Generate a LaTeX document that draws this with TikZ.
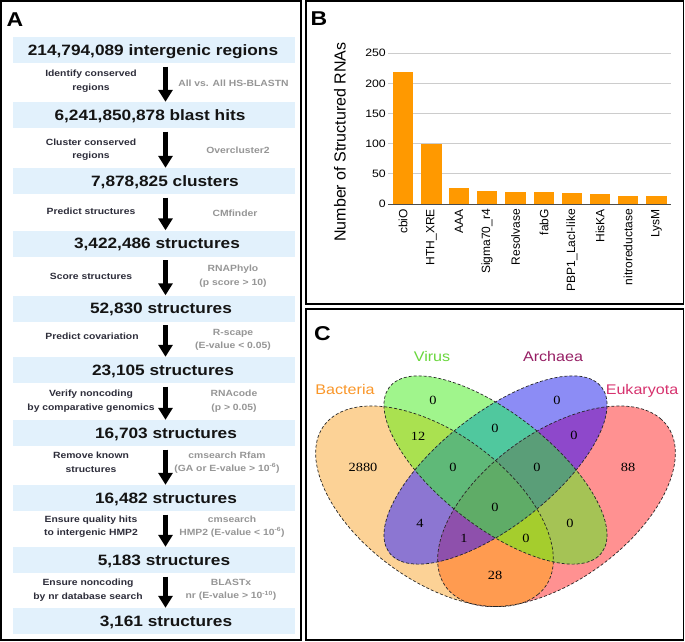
\documentclass[tikz,border=0pt]{standalone}
\usepackage{fontspec}
\setmainfont[FakeStretch=1.15]{Liberation Sans}
\newfontfamily\plainsans{Liberation Sans}
\newfontfamily\vennserif[FakeStretch=1.15]{Liberation Serif}
\usetikzlibrary{arrows.meta}

\definecolor{boxblue}{RGB}{226,241,252}
\definecolor{steptext}{RGB}{45,45,58}
\definecolor{tooltext}{RGB}{150,150,150}
\definecolor{barorange}{RGB}{255,153,0}
\definecolor{gridgray}{RGB}{204,204,204}
\definecolor{cB}{RGB}{252,210,150}
\definecolor{cV}{RGB}{160,245,140}
\definecolor{cA}{RGB}{140,140,245}
\definecolor{cE}{RGB}{255,145,145}
\definecolor{cBV}{RGB}{170,225,80}
\definecolor{cBA}{RGB}{140,118,210}
\definecolor{cBE}{RGB}{255,155,80}
\definecolor{cVA}{RGB}{80,200,158}
\definecolor{cVE}{RGB}{165,195,85}
\definecolor{cAE}{RGB}{142,72,203}
\definecolor{cBVA}{RGB}{95,185,120}
\definecolor{cBVE}{RGB}{165,205,45}
\definecolor{cBAE}{RGB}{142,80,172}
\definecolor{cVAE}{RGB}{90,158,120}
\definecolor{cBVAE}{RGB}{95,172,103}
\definecolor{lblB}{RGB}{250,150,40}
\definecolor{lblV}{RGB}{105,215,60}
\definecolor{lblA}{RGB}{150,30,100}
\definecolor{lblE}{RGB}{215,50,110}

\newcommand\clipVB{\clip[rotate around={-45:(-61,43)}] (-61,43) ellipse (147 and 81.5);}
\newcommand\clipVV{\clip[rotate around={-45:(0,0)}] (0,0) ellipse (145 and 62);}
\newcommand\clipVA{\clip[rotate around={45:(0,0)}] (0,0) ellipse (145 and 62);}
\newcommand\clipVE{\clip[rotate around={45:(61,43)}] (61,43) ellipse (147 and 81.5);}
\newcommand\vennfill[1]{\fill[#1] (-260,-260) rectangle (260,260);}

\tikzset{
  panel/.style={draw=black, line width=1.6pt},
  paneltag/.style={font=\fontsize{20}{24}\selectfont\bfseries, inner sep=0pt},
  stagebox/.style={fill=boxblue, minimum width=282pt, minimum height=26pt, inner sep=0pt},
  stagetext/.style={font=\fontsize{15}{18}\selectfont\bfseries, text=black!92, inner sep=0pt, anchor=base},
  stepnote/.style={font=\fontsize{9}{13.5}\selectfont\bfseries, text=steptext, align=center, inner sep=0pt},
  toolnote/.style={font=\fontsize{9}{13.5}\selectfont\bfseries, text=tooltext, align=center, inner sep=0pt},
  flowarrow/.style={line width=4.5pt, -{Triangle[width=14pt,length=12pt]}},
  gridline/.style={draw=gridgray, line width=0.8pt},
  axisline/.style={draw=black!70, line width=1pt},
  ticklabel/.style={font=\fontsize{10.7}{12}\selectfont, anchor=east, inner sep=0pt},
  catlabel/.style={font=\plainsans\fontsize{12}{14}\selectfont, rotate=90, anchor=east, inner sep=0pt},
  ylab/.style={font=\plainsans\fontsize{16}{18}\selectfont, rotate=90, inner sep=0pt},
  vennline/.style={draw=black!85, line width=0.7pt, dash pattern=on 3pt off 2pt},
  vennnum/.style={font=\vennserif\fontsize{12.5}{14}\selectfont, inner sep=0pt},
  setname/.style={font=\fontsize{14}{16}\selectfont, inner sep=0pt}
}

\begin{document}
\begin{tikzpicture}[x=1pt,y=-1pt]
\useasboundingbox (0,0) rectangle (685,642);
\fill[white] (0,0) rectangle (685,642);

%% ---------------- Panel A ----------------
\foreach \i/\yy in {1/50,2/115,3/181,4/243.5,5/308.5,6/370,7/433,8/498,9/560,10/621}
  \node[stagebox] (b\i) at (154,\yy) {};

\node[stagetext] (t1) at (153,55.3) {214,794,089 intergenic regions};
\node[stagetext] (t2) at (150,120.3) {6,241,850,878 blast hits};
\node[stagetext] (t3) at (165,186.3) {7,878,825 clusters};
\node[stagetext] (t4) at (157,248.8) {3,422,486 structures};
\node[stagetext] (t5) at (161,313.8) {52,830 structures};
\node[stagetext] (t6) at (163,375.3) {23,105 structures};
\node[stagetext] (t7) at (166,438.3) {16,703 structures};
\node[stagetext] (t8) at (166,503.3) {16,482 structures};
\node[stagetext] (t9) at (164,565.3) {5,183 structures};
\node[stagetext] (t10) at (166,626.3) {3,161 structures};

\foreach \i [evaluate=\i as \j using int(\i+1)] in {1,...,9}
  \draw[flowarrow] ([xshift=11.5pt,yshift=-3.5pt]b\i.south) -- ([xshift=11.5pt]b\j.north);

\node[stepnote] (s1) at (91,81) {Identify conserved\\regions};
\node[stepnote] (s2) at (91,149.5) {Cluster conserved\\regions};
\node[stepnote] (s3) at (91,211) {Predict structures};
\node[stepnote] (s4) at (91,276) {Score structures};
\node[stepnote] (s5) at (92,336) {Predict covariation};
\node[stepnote] (s6) at (91,401) {Verify noncoding\\by comparative genomics};
\node[stepnote] (s7) at (91,462.5) {Remove known\\structures};
\node[stepnote] (s8) at (91,526.5) {Ensure quality hits\\to intergenic HMP2};
\node[stepnote] (s9) at (88,590) {Ensure noncoding\\by nr database search};

\node[toolnote] (r1) at (233.5,83) {All vs. All HS-BLASTN};
\node[toolnote] (r2) at (238,150) {Overcluster2};
\node[toolnote] (r3) at (235,213) {CMfinder};
\node[toolnote] (r4) at (233,276) {RNAPhylo\\(p score > 10)};
\node[toolnote] (r5) at (233,340) {R-scape\\(E-value < 0.05)};
\node[toolnote] (r6) at (234,401) {RNAcode\\(p > 0.05)};
\node[toolnote] (r7) at (227,462.5) {cmsearch Rfam\\(GA or E-value > 10\textsuperscript{-6})};
\node[toolnote] (r8) at (232,526.5) {cmsearch\\HMP2 (E-value < 10\textsuperscript{-6})};
\node[toolnote] (r9) at (231,590) {BLASTx\\nr (E-value > 10\textsuperscript{-10})};

\node[paneltag] (tagA) at (15,19.5) {A};
\draw[panel] (1,1) rectangle (301,640);

%% ---------------- Panel B ----------------
\foreach \v in {50,100,150,200,250} {
  \pgfmathsetmacro\gy{204-0.6028*\v}
  \draw[gridline] (388,\gy) -- (671,\gy);
}
\foreach \v in {0,50,100,150,200,250} {
  \pgfmathsetmacro\gy{204-0.6028*\v}
  \node[ticklabel] (tick\v) at (386,\gy) {\v};
}
\foreach \n/\xc/\val/\lab in {1/403/219/cbiO, 2/431.5/100/HTH\_XRE, 3/459/26/AAA,
    4/487/22/Sigma70\_r4, 5/515.5/20/Resolvase, 6/544/20/fabG,
    7/572/18/PBP1\_LacI-like, 8/600/16/HisKA, 9/628/14/nitroreductase, 10/656.5/14/LysM} {
  \fill[barorange] ({\xc-10.25},204) rectangle ({\xc+10.25},{204-0.6028*\val});
  \node[catlabel] (cat\n) at (\xc,209) {\lab};
}
\draw[axisline] (388,204) -- (671,204);
\node[ylab] (yaxis) at (340,142) {Number of Structured RNAs};
\node[paneltag] (tagB) at (319,19) {B};
\draw[panel] (306,1) rectangle (683.5,304);

%% ---------------- Panel C ----------------
\begin{scope}[shift={(495.5,470)}, yscale=0.844]
  \fill[cB, rotate around={-45:(-61,43)}] (-61,43) ellipse (147 and 81.5);
  \fill[cE, rotate around={45:(61,43)}] (61,43) ellipse (147 and 81.5);
  \fill[cV, rotate around={-45:(0,0)}] (0,0) ellipse (145 and 62);
  \fill[cA, rotate around={45:(0,0)}] (0,0) ellipse (145 and 62);
  \begin{scope}\clipVB\clipVV\vennfill{cBV}\end{scope}
  \begin{scope}\clipVB\clipVA\vennfill{cBA}\end{scope}
  \begin{scope}\clipVB\clipVE\vennfill{cBE}\end{scope}
  \begin{scope}\clipVV\clipVA\vennfill{cVA}\end{scope}
  \begin{scope}\clipVV\clipVE\vennfill{cVE}\end{scope}
  \begin{scope}\clipVA\clipVE\vennfill{cAE}\end{scope}
  \begin{scope}\clipVB\clipVV\clipVA\vennfill{cBVA}\end{scope}
  \begin{scope}\clipVB\clipVV\clipVE\vennfill{cBVE}\end{scope}
  \begin{scope}\clipVB\clipVA\clipVE\vennfill{cBAE}\end{scope}
  \begin{scope}\clipVV\clipVA\clipVE\vennfill{cVAE}\end{scope}
  \begin{scope}\clipVB\clipVV\clipVA\clipVE\vennfill{cBVAE}\end{scope}
  \draw[vennline, rotate around={-45:(-61,43)}] (-61,43) ellipse (147 and 81.5);
  \draw[vennline, rotate around={45:(61,43)}] (61,43) ellipse (147 and 81.5);
  \draw[vennline, rotate around={-45:(0,0)}] (0,0) ellipse (145 and 62);
  \draw[vennline, rotate around={45:(0,0)}] (0,0) ellipse (145 and 62);
\end{scope}

\node[vennnum] (nV) at (433,400) {0};
\node[vennnum] (nA) at (557,400) {0};
\node[vennnum] (nBV) at (418,436) {12};
\node[vennnum] (nB) at (363,467) {2880};
\node[vennnum] (nVA) at (495,428) {0};
\node[vennnum] (nAE) at (574,435) {0};
\node[vennnum] (nBVA) at (453,467) {0};
\node[vennnum] (nVAE) at (537,467) {0};
\node[vennnum] (nE) at (628,467) {88};
\node[vennnum] (nAll) at (495,507) {0};
\node[vennnum] (nBA) at (420,523) {4};
\node[vennnum] (nVE) at (570,523) {0};
\node[vennnum] (nBAE) at (464,538) {1};
\node[vennnum] (nBVE) at (526,538) {0};
\node[vennnum] (nBE) at (495,575) {28};

\node[setname, text=lblV] (lV) at (432,356) {Virus};
\node[setname, text=lblA] (lA) at (553,356) {Archaea};
\node[setname, text=lblB] (lB) at (345,389) {Bacteria};
\node[setname, text=lblE] (lE) at (642,391) {Eukaryota};

\node[paneltag] (tagC) at (322.5,333.5) {C};
\draw[panel] (306,309) rectangle (683.5,640);
\end{tikzpicture}
\end{document}
